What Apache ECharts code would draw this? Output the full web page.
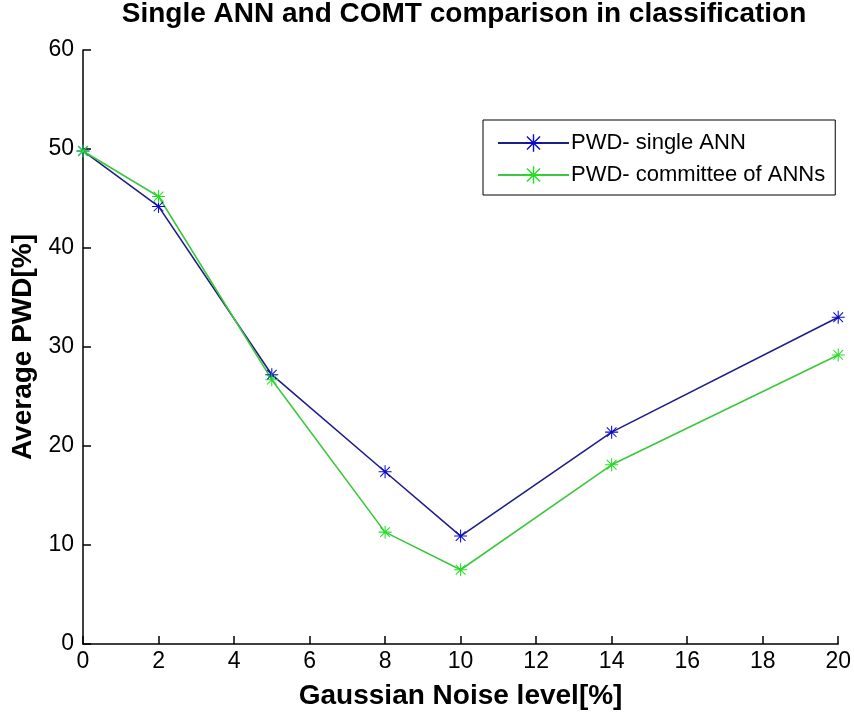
<!DOCTYPE html>
<html>
<head>
<meta charset="utf-8">
<script src="https://cdn.jsdelivr.net/npm/echarts@6/dist/echarts.min.js"></script>
<style>
html,body{margin:0;padding:0;background:#fff;}
#chart{width:854px;height:715px;}
</style>
</head>
<body>
<div id="chart"></div>
<script>
var noiseLevels = [0, 2, 5, 8, 10, 14, 20];
var singleANN = [49.8, 44.2, 27.2, 17.4, 10.9, 21.4, 33.0];
var committeeANNs = [49.8, 45.2, 26.7, 11.3, 7.5, 18.1, 29.2];
var seriesNames = ['PWD- single ANN', 'PWD- committee of ANNs'];
var titleText = 'Single ANN and COMT comparison in classification';
var xName = 'Gaussian Noise level[%]';
var yName = 'Average PWD[%]';

var star = 'path://M9.2 0 H10.8 V20 H9.2 Z M0 9.2 H20 V10.8 H0 Z M2 3.1 L3.1 2 L18 16.9 L16.9 18 Z M16.9 2 L18 3.1 L3.1 18 L2 16.9 Z';

function pairs(xs, ys){ return xs.map(function(x,i){ return [x, ys[i]]; }); }

var font = 'Arial, "Liberation Sans", Helvetica, sans-serif';
var chart = echarts.init(document.getElementById('chart'), null, {renderer:'canvas'});
chart.setOption({
  backgroundColor: '#ffffff',
  animation: false,
  textStyle: {fontFamily: font},
  title: {
    text: titleText, left: 464, textAlign: 'center', top: 0, padding: 0,
    textStyle: {fontSize: 28, fontWeight: 'bold', color: '#000', fontFamily: font}
  },
  legend: {
    orient: 'vertical', left: 483, top: 120,
    padding: [12, 10, 9, 14],
    borderColor: '#000', borderWidth: 1, backgroundColor: '#fff',
    itemWidth: 71, itemHeight: 22, itemGap: 10,
    textStyle: {fontSize: 22, color: '#000', lineHeight: 22, padding: [0,0,0,-3]},
    data: seriesNames
  },
  grid: {left: 83, right: 9, top: 50, bottom: 71, containLabel: false},
  xAxis: {
    type: 'value', min: 0, max: 20, interval: 2,
    name: xName, nameLocation: 'middle', nameGap: 38,
    nameTextStyle: {fontSize: 28, fontWeight: 'bold', color: '#000', fontFamily: font},
    axisLine: {show: true, onZero: false, lineStyle: {color: '#000', width: 1.5}},
    axisTick: {show: true, inside: true, length: 8, lineStyle: {color: '#000', width: 1.5}},
    axisLabel: {fontSize: 23, color: '#000', margin: 6, fontFamily: font},
    splitLine: {show: false}
  },
  yAxis: {
    type: 'value', min: 0, max: 60, interval: 10,
    name: yName, nameLocation: 'middle', nameGap: 46,
    nameTextStyle: {fontSize: 28, fontWeight: 'bold', color: '#000', fontFamily: font},
    axisLine: {show: true, lineStyle: {color: '#000', width: 1.5}},
    axisTick: {show: true, inside: true, length: 8, lineStyle: {color: '#000', width: 1.5}},
    axisLabel: {fontSize: 23, color: '#000', margin: 9, fontFamily: font},
    splitLine: {show: false}
  },
  series: [
    {
      name: seriesNames[0], type: 'line', data: pairs(noiseLevels, singleANN),
      symbol: star, symbolSize: 13, showSymbol: true,
      itemStyle: {color: '#0a0ad0'},
      lineStyle: {color: '#1e1e88', width: 1.6}
    },
    {
      name: seriesNames[1], type: 'line', data: pairs(noiseLevels, committeeANNs),
      symbol: star, symbolSize: 13, showSymbol: true,
      itemStyle: {color: '#22e022'},
      lineStyle: {color: '#3cc83c', width: 1.6}
    }
  ]
});
</script>
</body>
</html>
